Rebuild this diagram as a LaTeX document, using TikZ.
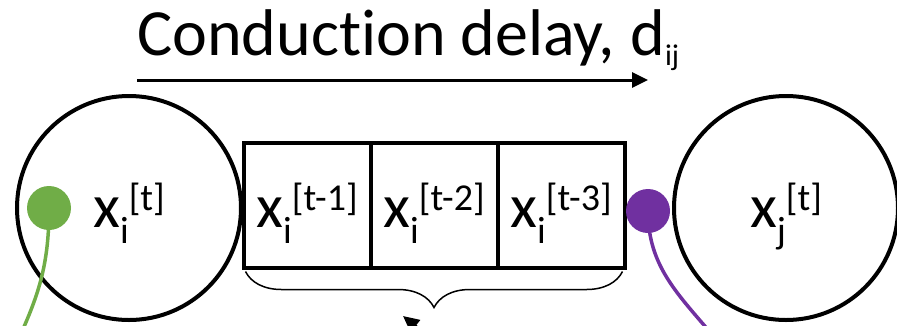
\documentclass[tikz,border=0pt]{standalone}
\usepackage{fontspec}
\setmainfont{Carlito}[Ligatures=NoCommon]
\usetikzlibrary{arrows.meta,positioning,decorations.pathreplacing}
\definecolor{spikegreen}{HTML}{70AD47}
\definecolor{spikepurple}{HTML}{7030A0}

\newcommand{\lowtxt}[2][-16pt]{\raisebox{#1}{\fontsize{38}{38}\selectfont #2}}
\newcommand{\hightxt}[1]{\raisebox{17pt}{\fontsize{38}{38}\selectfont #1}}
\newcommand{\xvar}[2]{x\lowtxt{#1}\hightxt{[#2]}}

\begin{document}
\begin{tikzpicture}[
    x=1pt, y=-1pt,
    neuron/.style={draw, circle, line width=4pt, minimum size=224pt,
                   inner sep=0pt, text height=38pt, text depth=0pt,
                   font=\fontsize{62}{62}\selectfont},
    cell/.style={draw, rectangle, line width=4pt, minimum width=127pt,
                 minimum height=125pt, inner sep=0pt, outer sep=0pt,
                 text height=44pt, text depth=0pt,
                 font=\fontsize{62}{62}\selectfont},
    dot/.style={circle, minimum size=44pt, inner sep=0pt},
    arr/.style={-{Triangle[length=16pt, width=15pt]}, line width=3pt},
    wire/.style={line width=3.5pt},
    brace/.style={decorate, decoration={brace, mirror, amplitude=36pt},
                  line width=1.5pt}
]
\clip (0,0) rectangle (897,325);
% Neurons i and j
\node[neuron] (ni) at (129,208) {\xvar{i}{t}};
\node[neuron] (nj) at (786,208) {\xvar{j}{t}};
% Delay buffer
\node[cell] (c1) at (307,205) {\xvar{i}{t-1}};
\node[cell, right=0pt of c1] (c2) {\xvar{i}{t-2}};
\node[cell, right=0pt of c2] (c3) {\xvar{i}{t-3}};
\draw[brace] ([xshift=2pt, yshift=-4pt]c1.south west)
  -- ([xshift=-2pt, yshift=-4pt]c3.south east);
% Conduction delay
\node[anchor=base west, inner sep=0pt, font=\fontsize{66}{66}\selectfont] (title)
  at (137,55) {Conduction delay, d\raisebox{-10pt}{\fontsize{30}{30}\selectfont ij}};
\coordinate (dstart) at (137,80);
\coordinate (dend) at (648,80);
\draw[arr] (dstart) -- (dend);
% Spikes
\coordinate (gend) at (18,340);
\coordinate (pend) at (715,338);
\node[dot] (gdot) at (49,208) {};
\node[dot] (pdot) at (648,211) {};
\draw[wire, spikegreen] (gdot.center) to[out=-90, in=65] (gend);
\draw[wire, spikepurple] (pdot.center) to[out=-90, in=130] (pend);
\node[dot, fill=spikegreen] at (gdot) {};
\node[dot, fill=spikepurple] at (pdot) {};
% Readout arrow
\coordinate (btail) at (445,350);
\coordinate (btip) at (403,316);
\draw[arr] (btail) -- (btip);
\end{tikzpicture}
\end{document}
